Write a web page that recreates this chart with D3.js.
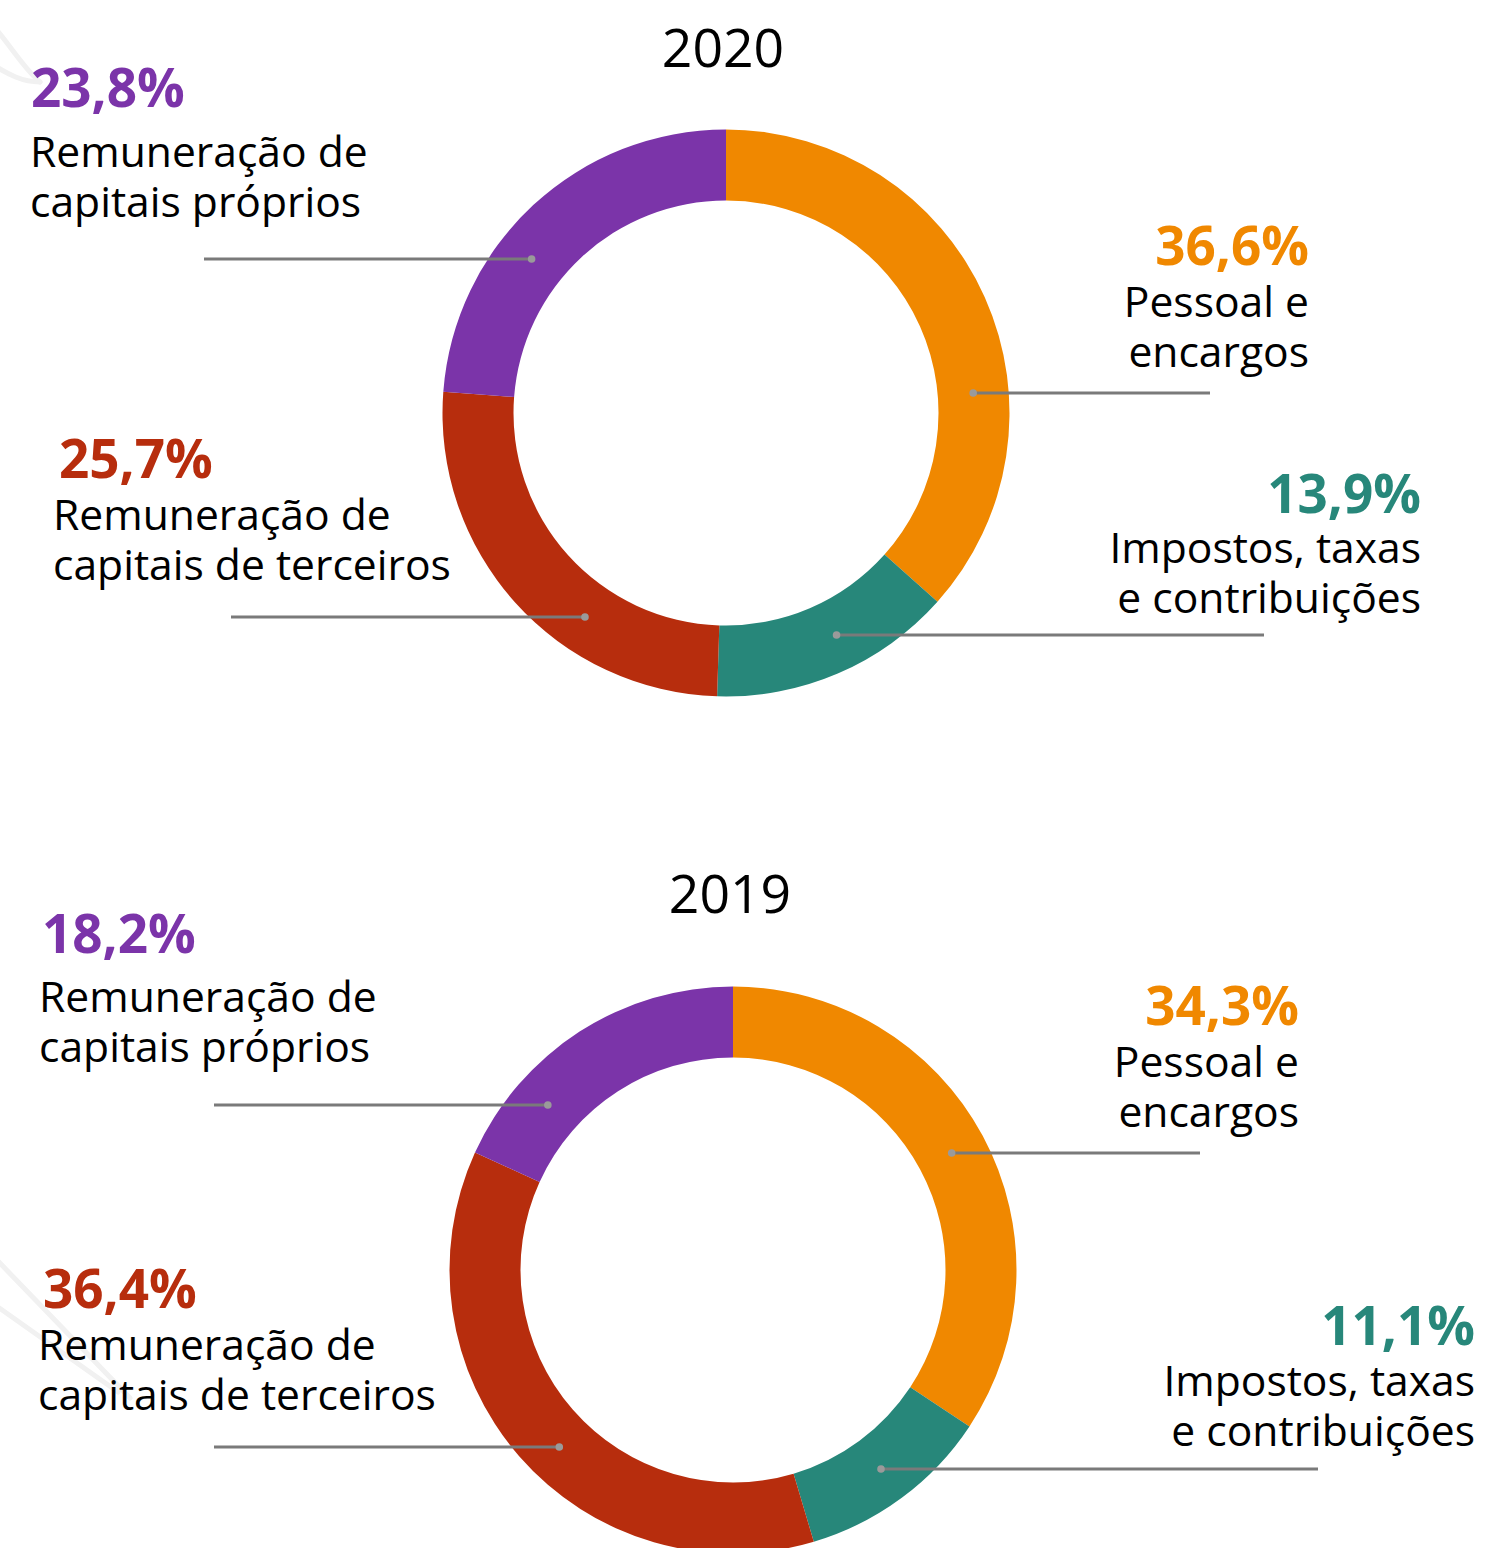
<!DOCTYPE html>
<html lang="pt-BR">
<head>
<meta charset="utf-8">
<title>Distribuição do valor adicionado</title>
<script src="https://cdn.jsdelivr.net/npm/d3@7"></script>
<style>
  html, body { margin: 0; padding: 0; background: #ffffff; }
  svg { display: block; font-family: "Open Sans", "Noto Sans", sans-serif; }
</style>
</head>
<body>
<svg id="chart" width="1491" height="1548"></svg>
<script>
// Value-added distribution (%), clockwise from 12 o'clock
const categories = [
  ["Pessoal e", "encargos"],
  ["Impostos, taxas", "e contribuições"],
  ["Remuneração de", "capitais de terceiros"],
  ["Remuneração de", "capitais próprios"]
];
const values2020 = [36.6, 13.9, 25.7, 23.8];
const values2019 = [34.3, 11.1, 36.4, 18.2];
const years = ["2020", "2019"];
const sliceColors = ["#F08800", "#27877A", "#B72D0D", "#7B34A9"];

const fmt = v => d3.format(".1f")(v).replace(".", ",") + "%";

const svg = d3.select("#chart");

// soft background strokes
const deco = svg.append("g").attr("fill", "none").attr("stroke", "#f1f1f1")
  .attr("stroke-width", 5).attr("stroke-linecap", "round");
deco.append("path").attr("d", "M-5,28 C10,45 25,70 40,82");
deco.append("path").attr("d", "M-5,66 C8,74 22,82 40,82");
deco.append("path").attr("d", "M-5,1258 L130,1398");
deco.append("path").attr("d", "M-5,1305 L118,1392");

// per-panel layout: centre, title baseline, label blocks and leader lines
const panels = [
  {
    values: values2020, year: years[0], cx: 726, cy: 413, titleY: 67, titleX: 723,
    labels: [
      { anchor: "end",   x: 1309, pdx: 0, y: 265, gap: 52, leadY: 393, leadEnd: 1210 },
      { anchor: "end",   x: 1421, pdx: 0, y: 513, gap: 50, leadY: 635, leadEnd: 1264 },
      { anchor: "start", x: 53,   pdx: 6, y: 478, gap: 52, leadY: 617, leadEnd: 231 },
      { anchor: "start", x: 30,   pdx: 1, y: 107, gap: 60, leadY: 259, leadEnd: 204 }
    ]
  },
  {
    values: values2019, year: years[1], cx: 733, cy: 1270, titleY: 913, titleX: 730,
    labels: [
      { anchor: "end",   x: 1299, pdx: 0, y: 1025, gap: 52, leadY: 1153, leadEnd: 1200 },
      { anchor: "end",   x: 1475, pdx: 0, y: 1345, gap: 51, leadY: 1469, leadEnd: 1318 },
      { anchor: "start", x: 38,   pdx: 5, y: 1308, gap: 52, leadY: 1447, leadEnd: 214 },
      { anchor: "start", x: 39,   pdx: 3, y: 953,  gap: 59, leadY: 1105, leadEnd: 214 }
    ]
  }
];

const outerR = 283.5, innerR = 212.5, midR = (outerR + innerR) / 2;

const pie = d3.pie().sort(null).value(d => d);
const arc = d3.arc().innerRadius(innerR).outerRadius(outerR);

panels.forEach(p => {
  const g = svg.append("g");

  g.append("text")
    .attr("x", p.titleX).attr("y", p.titleY)
    .attr("text-anchor", "middle")
    .attr("font-size", 53.5).attr("fill", "#000")
    .text(p.year);

  const ring = g.append("g").attr("transform", `translate(${p.cx},${p.cy})`);
  const arcs = pie(p.values);
  ring.selectAll("path").data(arcs).join("path")
    .attr("d", arc)
    .attr("fill", (d, i) => sliceColors[i]);

  arcs.forEach((a, i) => {
    const L = p.labels[i];
    // leader anchor: where the leader's row meets the ring's mid-line on the slice's side
    const dy = L.leadY - p.cy;
    const dx = Math.sqrt(Math.max(midR * midR - dy * dy, 0));
    const side = L.anchor === "end" ? 1 : -1;
    const dotX = p.cx + side * dx;

    g.append("line")
      .attr("x1", L.leadEnd).attr("x2", dotX)
      .attr("y1", L.leadY).attr("y2", L.leadY)
      .attr("stroke", "#7a7a7a").attr("stroke-width", 3);
    g.append("circle")
      .attr("cx", dotX).attr("cy", L.leadY).attr("r", 3.8)
      .attr("fill", "#9a9a9a");

    const t = g.append("g").attr("text-anchor", L.anchor);
    t.append("text")
      .attr("x", L.x + L.pdx).attr("y", L.y)
      .attr("font-size", 53).attr("font-weight", 700)
      .attr("fill", sliceColors[i])
      .text(fmt(p.values[i]));
    categories[i].forEach((line, k) => {
      t.append("text")
        .attr("x", L.x).attr("y", L.y + L.gap + k * 50)
        .attr("font-size", 42.6).attr("fill", "#000")
        .text(line);
    });
  });
});
</script>
</body>
</html>
